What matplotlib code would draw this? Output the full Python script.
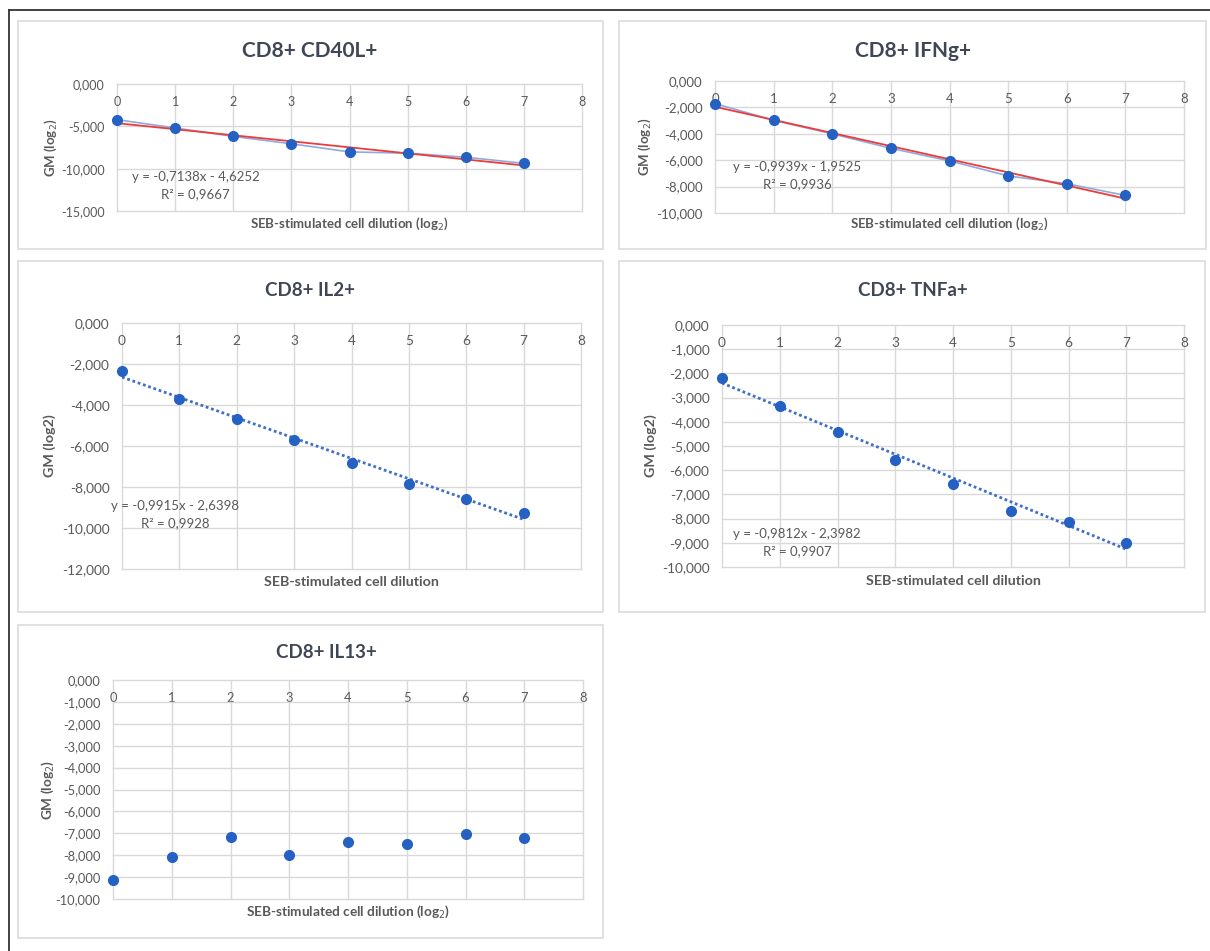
import matplotlib
matplotlib.use('Agg')
import matplotlib.pyplot as plt
from matplotlib.patches import Rectangle
from matplotlib.lines import Line2D
import numpy as np

plt.rcParams['font.family'] = ['Lato', 'DejaVu Sans']

W, H = 1210, 951

# ---------------- data ----------------
dilution = [0, 1, 2, 3, 4, 5, 6, 7]
cd40l = [-4.21, -5.20, -6.19, -7.06, -8.02, -8.17, -8.65, -9.37]
ifng = [-1.71, -2.98, -4.00, -5.10, -6.05, -7.19, -7.78, -8.67]
il2 = [-2.35, -3.71, -4.66, -5.72, -6.85, -7.84, -8.58, -9.28]
tnfa = [-2.18, -3.34, -4.42, -5.56, -6.55, -7.68, -8.14, -9.00]
il13 = [-9.13, -8.09, -7.15, -7.97, -7.38, -7.48, -7.03, -7.23]

titles = ["CD8+ CD40L+", "CD8+ IFNg+", "CD8+ IL2+", "CD8+ TNFa+", "CD8+ IL13+"]
trend_slopes = [-0.7138, -0.9939, -0.9915, -0.9812]
trend_intercepts = [-4.6252, -1.9525, -2.6398, -2.3982]
trend_r2 = [0.9667, 0.9936, 0.9928, 0.9907]
y_ticks = [
    [0, -5, -10, -15],
    [0, -2, -4, -6, -8, -10],
    [0, -2, -4, -6, -8, -10, -12],
    [0, -1, -2, -3, -4, -5, -6, -7, -8, -9, -10],
    [0, -1, -2, -3, -4, -5, -6, -7, -8, -9, -10],
]
x_ticks = [0, 1, 2, 3, 4, 5, 6, 7, 8]
xlabels = ["SEB-stimulated cell dilution (log$_2$)", "SEB-stimulated cell dilution (log$_2$)",
           "SEB-stimulated cell dilution", "SEB-stimulated cell dilution",
           "SEB-stimulated cell dilution (log$_2$)"]
ylabels = ["GM (log$_2$)", "GM (log$_2$)", "GM (log2)", "GM (log2)", "GM (log$_2$)"]
series = [cd40l, ifng, il2, tnfa, il13]

# ---------------- layout (pixels) ----------------
boxes = [(18, 21, 603, 249), (619, 21, 1206, 249), (18, 261, 603, 612),
         (619, 261, 1205, 612), (18, 625, 603, 938)]
plots = [(117, 84, 582, 211), (715, 81, 1184, 213), (122, 323, 581, 569),
         (722, 325, 1184, 567), (113, 680, 583, 899)]
title_pos = [(310, 51), (913, 51), (310, 290), (913, 291), (326, 652)]
title_size = [15, 15, 13.5, 13.5, 13.5]
tick_size = [9, 9.5, 9.8, 9.8, 9.3]
xlabel_size = [9.5, 9.5, 10.3, 10.3, 9.8]
ylabel_size = [9.5, 9.5, 10.3, 10.3, 9.8]
ylabel_x = [51, 645, 50, 651, 48]
xlabel_y = [224, 224, 582, 581, 912]
eq_pos = [(1.35, -11.95), (1.40, -7.18), (0.93, -9.34), (1.30, -9.0)]

GRID = '#d9d9d9'
TICKC = '#595959'
TITLEC = '#3f4756'
MARK = '#2561c2'

fig = plt.figure(figsize=(W / 100, H / 100), dpi=100)
fig.patch.set_facecolor('white')

# outer frame
fig.add_artist(Line2D([9 / W, 1.0], [1 - 10 / H, 1 - 10 / H], transform=fig.transFigure,
                      color='#333333', lw=1.3))
fig.add_artist(Line2D([9 / W, 9 / W], [1 - 10 / H, 0.0], transform=fig.transFigure,
                      color='#333333', lw=1.3))


def yfmt(v):
    s = f"{v:.3f}".replace('.', ',')
    return "0,000" if v == 0 else s


for i in range(5):
    bx0, by0, bx1, by1 = boxes[i]
    fig.add_artist(Rectangle((bx0 / W, 1 - by1 / H), (bx1 - bx0) / W, (by1 - by0) / H,
                             transform=fig.transFigure, facecolor='none',
                             edgecolor='#dcdcdc', lw=1.2))
    px0, py0, px1, py1 = plots[i]
    ax = fig.add_axes([px0 / W, 1 - py1 / H, (px1 - px0) / W, (py1 - py0) / H])
    ax.set_facecolor('none')
    for s in ax.spines.values():
        s.set_visible(False)
    yt = y_ticks[i]
    ax.set_xlim(0, 8)
    ax.set_ylim(min(yt), 0)
    ax.set_xticks(x_ticks)
    ax.set_yticks(yt)
    ax.set_yticklabels([yfmt(v) for v in yt])
    ax.grid(True, color=GRID, lw=1.0)
    for gl in ax.get_xgridlines() + ax.get_ygridlines():
        gl.set_clip_on(False)
    ax.set_axisbelow(True)
    ax.tick_params(axis='x', top=True, bottom=False, labeltop=True, labelbottom=False,
                   length=0, pad=-17, labelsize=tick_size[i], labelcolor=TICKC)
    ax.tick_params(axis='y', length=0, pad=9, labelsize=tick_size[i], labelcolor=TICKC)

    y = series[i]
    if i < 2:
        ax.plot(dilution, y, color='#8faadc', lw=1.2, zorder=2)
        xs = np.array([dilution[0], dilution[-1]])
        ax.plot(xs, trend_slopes[i] * xs + trend_intercepts[i], color='#ee3b3b', lw=1.3, zorder=3)
    elif i < 4:
        xs = np.array([dilution[0], dilution[-1]])
        ax.plot(xs, trend_slopes[i] * xs + trend_intercepts[i], color='#3f6fc8', lw=2.0,
                ls=(0, (1, 1)), zorder=3)
    ax.plot(dilution, y, 'o', color=MARK, ms=7, zorder=4, clip_on=False)

    if i < 4:
        sl = f"{trend_slopes[i]:.4f}".replace('.', ',')
        ic = f"{abs(trend_intercepts[i]):.4f}".replace('.', ',')
        r2 = f"{trend_r2[i]:.4f}".replace('.', ',')
        ax.text(eq_pos[i][0], eq_pos[i][1], f"y = {sl}x - {ic}\nR² = {r2}",
                ha='center', va='center', fontsize=9.5, color=TICKC, linespacing=1.5, zorder=5)

    ax.set_xlabel(xlabels[i], fontsize=xlabel_size[i], fontweight='bold', color=TICKC)
    ax.xaxis.set_label_position('bottom')
    ax.xaxis.set_label_coords(0.5, (py1 - xlabel_y[i]) / (py1 - py0))
    ax.xaxis.label.set_va('center')
    ax.set_ylabel(ylabels[i], fontsize=ylabel_size[i], fontweight='bold', color=TICKC)
    ax.yaxis.set_label_coords((ylabel_x[i] - px0) / (px1 - px0), 0.5)
    ax.yaxis.label.set_va('center')

    tx, ty = title_pos[i]
    fig.text(tx / W, 1 - ty / H, titles[i], ha='center', va='center',
             fontsize=title_size[i], fontweight='bold', color=TITLEC)

fig.savefig('out.png', dpi=100, facecolor='white')
